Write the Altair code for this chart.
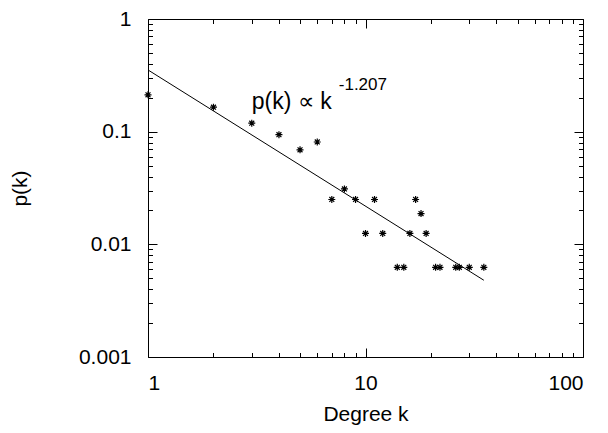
import altair as alt
import pandas as pd

# ---- data ----
k_vals = [1, 2, 3, 4, 5, 6, 7, 8, 9, 10, 11, 12, 14, 15, 16, 17, 18, 19, 21, 22, 26, 27, 30, 35]
p_vals = [0.2125, 0.165, 0.119, 0.094, 0.069, 0.081, 0.025, 0.031, 0.025, 0.0125, 0.025, 0.0125,
          0.00625, 0.00625, 0.0125, 0.025, 0.01875, 0.0125, 0.00625, 0.00625, 0.00625, 0.00625,
          0.00625, 0.00625]

fit_k = [1, 35]
fit_p = [0.353, 0.0048]

x_major = [1, 10, 100]
x_minor = [2, 3, 4, 5, 6, 7, 8, 9, 20, 30, 40, 50, 60, 70, 80, 90]
y_major = [0.001, 0.01, 0.1, 1]
y_minor = [0.002, 0.003, 0.004, 0.005, 0.006, 0.007, 0.008, 0.009,
           0.02, 0.03, 0.04, 0.05, 0.06, 0.07, 0.08, 0.09,
           0.2, 0.3, 0.4, 0.5, 0.6, 0.7, 0.8, 0.9]

ann_x = [3.0]
ann_y = [0.159]
ann_main = ["p(k) \u221d k"]
ann_sup = ["-1.207"]

FONT = "Liberation Sans"

pts = pd.DataFrame({"k": k_vals, "p": p_vals})
fit = pd.DataFrame({"k": fit_k, "p": fit_p})
ann = pd.DataFrame({"k": ann_x, "p": ann_y, "t": ann_main, "s": ann_sup})

xs = alt.Scale(type="log", domain=[1, 100], nice=False)
ys = alt.Scale(type="log", domain=[0.001, 1], nice=False)


def test(vals):
    return "indexof([" + ",".join(repr(v) for v in vals) + "], datum.value) >= 0"


xt = test(x_major)
yt = test(y_major)

common = dict(domain=False, grid=False, tickColor="black", tickWidth=1,
              labelFont=FONT, labelFontSize=21, labelColor="black",
              titleFont=FONT, titleFontSize=21, titleFontWeight="normal", titleColor="black")

x_bottom = alt.Axis(orient="bottom", values=x_major + x_minor,
                    labelExpr=f"{xt} ? format(datum.value, '~g') : ''",
                    tickSize=alt.ExprRef(expr=f"{xt} ? -9 : -4.5"),
                    labelPadding=24, title="Degree k", titleY=63, titleBaseline="alphabetic",
                    **common)
y_left = alt.Axis(orient="left", values=y_major + y_minor,
                  labelExpr=f"{yt} ? format(datum.value, '~g') : ''",
                  tickSize=alt.ExprRef(expr=f"{yt} ? -9 : -4.5"),
                  labelPadding=26, title="p(k)", titleX=-128, titleY=169,
                  titleBaseline="middle", titleAlign="center", titleAngle=270,
                  **common)
x_top = alt.Axis(orient="top", values=x_major + x_minor, labels=False,
                 tickSize=alt.ExprRef(expr=f"{xt} ? -9 : -4.5"), title="", **common)
y_right = alt.Axis(orient="right", values=y_major + y_minor, labels=False,
                   tickSize=alt.ExprRef(expr=f"{yt} ? -9 : -4.5"), title="", **common)

star = "M-1,0L1,0M0,-1L0,1M-0.7,-0.7L0.7,0.7M-0.7,0.7L0.7,-0.7"

points = alt.Chart(pts).mark_point(shape=star, size=49, filled=False, stroke="black",
                                   strokeWidth=1.2, opacity=1).encode(
    x=alt.X("k:Q", scale=xs, axis=x_bottom),
    y=alt.Y("p:Q", scale=ys, axis=y_left),
)

line = alt.Chart(fit).mark_line(color="black", strokeWidth=1).encode(
    x=alt.X("k:Q", scale=xs, axis=x_top),
    y=alt.Y("p:Q", scale=ys, axis=y_right),
)

txt = alt.Chart(ann).mark_text(align="left", baseline="alphabetic", font=FONT,
                               fontSize=23, color="black").encode(
    x=alt.X("k:Q", scale=xs, axis=None),
    y=alt.Y("p:Q", scale=ys, axis=None),
    text="t:N",
)
sup = alt.Chart(ann).mark_text(align="left", baseline="alphabetic", font=FONT,
                               fontSize=17, color="black", dx=87, dy=-19).encode(
    x=alt.X("k:Q", scale=xs, axis=None),
    y=alt.Y("p:Q", scale=ys, axis=None),
    text="s:N",
)

chart = alt.layer(points, line, txt, sup).resolve_axis(
    x="independent", y="independent"
).properties(
    width=435, height=338,
    autosize=alt.AutoSizeParams(type="none"),
    padding={"left": 140, "top": 11, "right": 17, "bottom": 68},
    background="white",
).configure_view(stroke="black", strokeWidth=1)

chart.save("out.html", embed_options={"renderer": "svg", "actions": False})
